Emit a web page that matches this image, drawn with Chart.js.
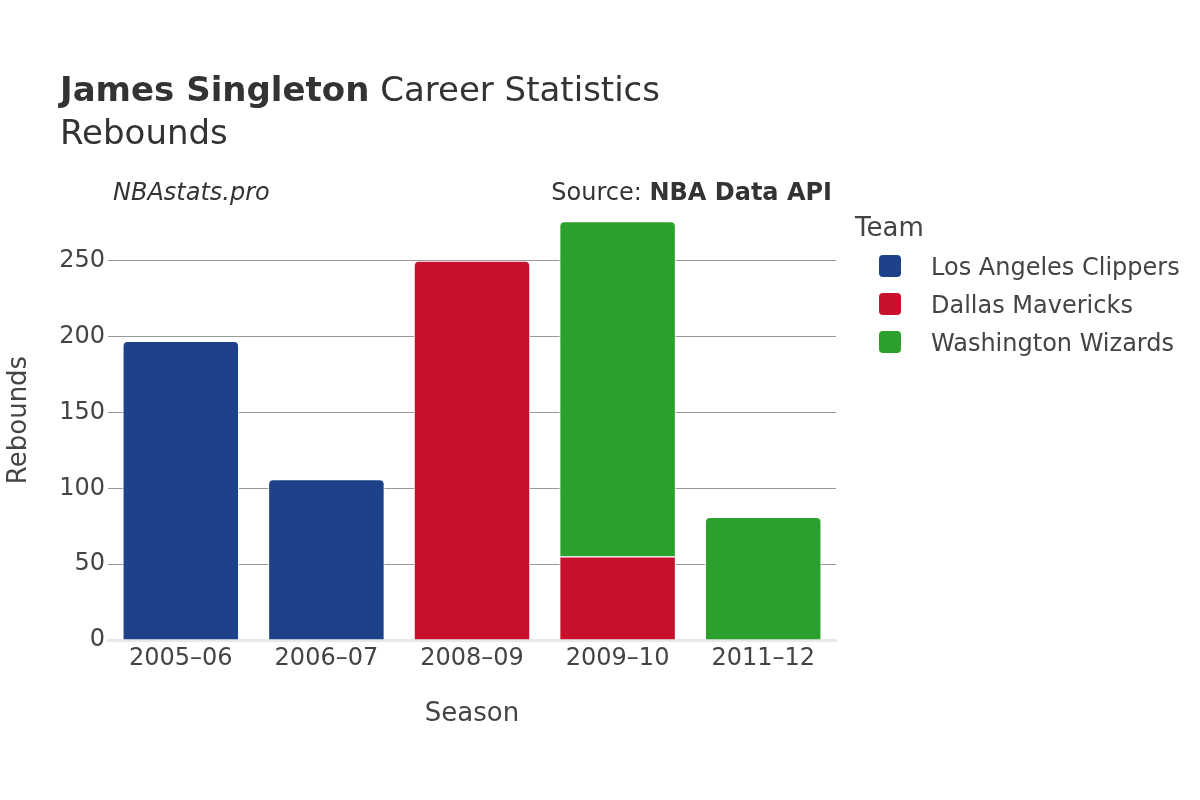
<!DOCTYPE html>
<html>
<head>
<meta charset="utf-8">
<script src="https://cdn.jsdelivr.net/npm/chart.js@4"></script>
<style>
  html, body { margin: 0; padding: 0; background: #fff; }
  #wrap { width: 1200px; height: 800px; position: relative; }
</style>
</head>
<body>
<div id="wrap"><canvas id="chart" width="1200" height="800"></canvas></div>
<script>
// data
const seasons = ["2005–06", "2006–07", "2008–09", "2009–10", "2011–12"];
const clippers = [197, 106, null, null, null];
const mavericks = [null, null, 250, 55, null];
const wizards = [null, null, null, 221, 81];
const yTicks = [0, 50, 100, 150, 200, 250];

const teamNames = ["Los Angeles Clippers", "Dallas Mavericks", "Washington Wizards"];
const teamColors = ["#1d428a", "#c8102e", "#2ca02c"];
const seriesList = [clippers, mavericks, wizards];

const FONT = "'DejaVu Sans', Verdana, sans-serif";
const TEXT = "#444";

// round top corners only on the topmost segment of a stack
function topRadius(ctx) {
  const i = ctx.dataIndex;
  const d = ctx.datasetIndex;
  for (let k = d + 1; k < seriesList.length; k++) {
    if (seriesList[k][i]) return 0;
  }
  return { topLeft: 5, topRight: 5, bottomLeft: 0, bottomRight: 0 };
}

const decorations = {
  id: "decorations",
  afterDraw(chart) {
    const c = chart.ctx;
    const area = chart.chartArea;
    c.save();
    c.fillStyle = "#333";
    c.textBaseline = "alphabetic";
    c.textAlign = "left";
    // title
    c.font = "bold 34px " + FONT;
    c.fillText("James Singleton", 60, 101);
    const w = c.measureText("James Singleton").width;
    c.font = "34px " + FONT;
    c.fillText(" Career Statistics", 60 + w, 101);
    c.fillText("Rebounds", 60, 144);

    // site + source
    c.font = "italic 24px " + FONT;
    c.fillText("NBAstats.pro", 113, 200);
    c.textAlign = "right";
    c.font = "bold 24px " + FONT;
    c.fillText("NBA Data API", 832, 200);
    const sw = c.measureText("NBA Data API").width;
    c.font = "24px " + FONT;
    c.fillText("Source: ", 832 - sw, 200);

    // axis titles
    c.fillStyle = TEXT;
    c.textAlign = "center";
    c.font = "26px " + FONT;
    c.fillText("Season", (area.left + area.right) / 2, 721);
    c.save();
    c.translate(26, (area.top + area.bottom) / 2);
    c.rotate(-Math.PI / 2);
    c.fillText("Rebounds", 0, 0);
    c.restore();

    // legend
    c.textAlign = "left";
    c.fillStyle = TEXT;
    c.font = "26px " + FONT;
    c.fillText("Team", 855, 236);
    c.font = "24px " + FONT;
    chart.data.datasets.forEach((ds, i) => {
      const y = 266 + i * 38;
      c.fillStyle = ds.backgroundColor;
      c.beginPath();
      c.roundRect(879, y - 11, 22, 22, 4);
      c.fill();
      c.fillStyle = TEXT;
      c.fillText(ds.label, 931, y + 9);
    });
    c.restore();
  },
};

new Chart(document.getElementById("chart"), {
  type: "bar",
  data: {
    labels: seasons,
    datasets: teamNames.map((name, i) => ({
      label: name,
      data: seriesList[i],
      backgroundColor: teamColors[i],
      borderColor: "#ffffff",
      borderWidth: 1,
      borderSkipped: "bottom",
      borderRadius: topRadius,
      barPercentage: 0.8,
      categoryPercentage: 1,
    })),
  },
  options: {
    responsive: false,
    animation: false,
    layout: { padding: { left: 0, top: 200, right: 364, bottom: 60 } },
    plugins: {
      legend: { display: false },
      tooltip: { enabled: false },
      title: { display: false },
    },
    scales: {
      x: {
        stacked: true,
        grid: { display: false, drawTicks: false },
        border: { display: true, color: "#e8e8e8", width: 3 },
        ticks: { color: TEXT, font: { family: FONT, size: 24 }, padding: 4 },
        afterFit(scale) { scale.height = 100; },
      },
      y: {
        stacked: true,
        min: 0,
        max: 290,
        afterBuildTicks(scale) { scale.ticks = yTicks.map((v) => ({ value: v })); },
        grid: {
          color: (ctx) => (ctx.tick && ctx.tick.value === 0 ? "rgba(0,0,0,0)" : "#999"),
          lineWidth: 1,
          drawTicks: false,
        },
        border: { display: false },
        ticks: { color: TEXT, font: { family: FONT, size: 24 }, padding: 3 },
        afterFit(scale) { scale.width = 108; },
      },
    },
  },
  plugins: [decorations],
});
</script>
</body>
</html>
